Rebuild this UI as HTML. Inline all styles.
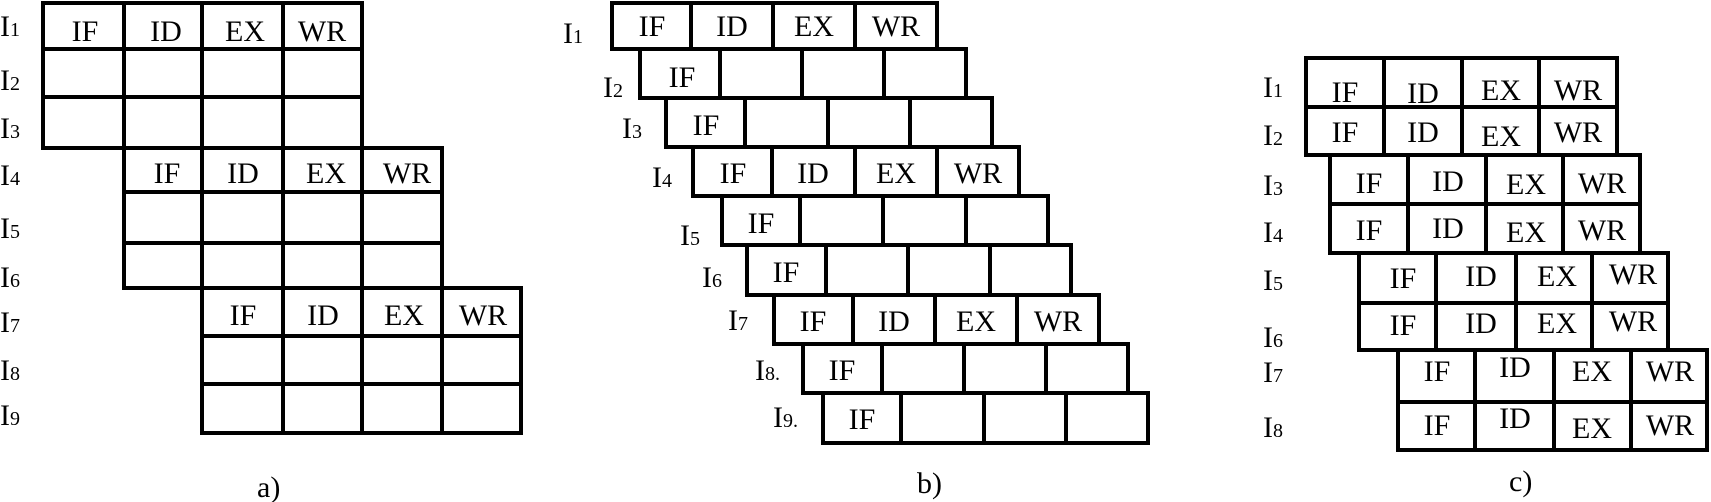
<!DOCTYPE html>
<html><head><meta charset="utf-8"><style>
html,body{margin:0;padding:0;background:#fff;}
svg{display:block;}
text{font-family:"Liberation Serif","DejaVu Serif",serif;fill:#000;}
.c{font-size:30px;text-anchor:middle;}
.l{font-size:30px;}
.s{font-size:20px;}
</style></head><body>
<svg width="1711" height="502" viewBox="0 0 1711 502" xmlns="http://www.w3.org/2000/svg">
<g fill="none" stroke="#000" stroke-width="4">
<!-- a -->
<rect x="43" y="3" width="319" height="145"/>
<path d="M43 49H362M43 97H362M124 3V148M202 3V148M283 3V148"/>
<rect x="124" y="148" width="318" height="140"/>
<path d="M124 192H442M124 243H442M202 148V288M283 148V288M362 148V288"/>
<rect x="202" y="288" width="319" height="145"/>
<path d="M202 336H521M202 384H521M283 288V433M362 288V433M442 288V433"/>
<!-- b -->
<rect x="612" y="3" width="325" height="46"/><path d="M691 3V49M773 3V49M855 3V49"/>
<rect x="640" y="49" width="326" height="49"/><path d="M720 49V98M802 49V98M884 49V98"/>
<rect x="666" y="98" width="326" height="49"/><path d="M745 98V147M828 98V147M910 98V147"/>
<rect x="693" y="147" width="326" height="49"/><path d="M772 147V196M855 147V196M937 147V196"/>
<rect x="722" y="196" width="326" height="49"/><path d="M800 196V245M883 196V245M966 196V245"/>
<rect x="747" y="245" width="324" height="50"/><path d="M826 245V295M908 245V295M990 245V295"/>
<rect x="774" y="295" width="325" height="49"/><path d="M853 295V344M935 295V344M1017 295V344"/>
<rect x="803" y="344" width="325" height="49"/><path d="M882 344V393M964 344V393M1046 344V393"/>
<rect x="823" y="393" width="325" height="50"/><path d="M901 393V443M984 393V443M1066 393V443"/>
<!-- c -->
<rect x="1306" y="58" width="311" height="97"/><path d="M1306 107H1617M1384 58V155M1462 58V155M1539 58V155"/>
<rect x="1330" y="155" width="310" height="98"/><path d="M1330 204H1640M1408 155V253M1486 155V253M1563 155V253"/>
<rect x="1359" y="253" width="309" height="97"/><path d="M1359 303H1668M1436 253V350M1516 253V350M1592 253V350"/>
<rect x="1398" y="350" width="309" height="100"/><path d="M1398 402H1707M1475 350V450M1554 350V450M1631 350V450"/>
</g>
<!-- a text -->
<g class="c">
<text x="85" y="41">IF</text><text x="166" y="41">ID</text><text x="245" y="41">EX</text><text x="322" y="41">WR</text>
<text x="167" y="183">IF</text><text x="243" y="183">ID</text><text x="326" y="183">EX</text><text x="407" y="183">WR</text>
<text x="243" y="325">IF</text><text x="323" y="325">ID</text><text x="404" y="325">EX</text><text x="483" y="325">WR</text>
</g>
<g class="l">
<text x="0" y="36">I<tspan class="s">1</tspan></text>
<text x="0" y="90">I<tspan class="s">2</tspan></text>
<text x="0" y="138">I<tspan class="s">3</tspan></text>
<text x="0" y="185">I<tspan class="s">4</tspan></text>
<text x="0" y="238">I<tspan class="s">5</tspan></text>
<text x="0" y="287">I<tspan class="s">6</tspan></text>
<text x="0" y="332">I<tspan class="s">7</tspan></text>
<text x="0" y="380">I<tspan class="s">8</tspan></text>
<text x="0" y="425">I<tspan class="s">9</tspan></text>
<text x="257" y="497">a)</text>
</g>
<!-- b text -->
<g class="c">
<text x="652" y="36">IF</text><text x="732" y="36">ID</text><text x="814" y="36">EX</text><text x="896" y="36">WR</text>
<text x="682" y="87">IF</text>
<text x="706" y="135">IF</text>
<text x="733" y="183">IF</text><text x="813" y="183">ID</text><text x="896" y="183">EX</text><text x="978" y="183">WR</text>
<text x="761" y="233">IF</text>
<text x="786" y="282">IF</text>
<text x="813" y="331">IF</text><text x="894" y="331">ID</text><text x="976" y="331">EX</text><text x="1058" y="331">WR</text>
<text x="842" y="380">IF</text>
<text x="862" y="429">IF</text>
</g>
<g class="l">
<text x="563" y="43">I<tspan class="s">1</tspan></text>
<text x="603" y="97">I<tspan class="s">2</tspan></text>
<text x="622" y="138">I<tspan class="s">3</tspan></text>
<text x="652" y="187">I<tspan class="s">4</tspan></text>
<text x="680" y="245">I<tspan class="s">5</tspan></text>
<text x="702" y="287">I<tspan class="s">6</tspan></text>
<text x="728" y="330">I<tspan class="s">7</tspan></text>
<text x="755" y="380">I<tspan class="s">8.</tspan></text>
<text x="773" y="427">I<tspan class="s">9.</tspan></text>
<text x="917" y="493">b)</text>
</g>
<!-- c text -->
<g class="c">
<text x="1345" y="102">IF</text><text x="1423" y="103">ID</text><text x="1501" y="100">EX</text><text x="1578" y="100">WR</text>
<text x="1345" y="142">IF</text><text x="1423" y="142">ID</text><text x="1501" y="146">EX</text><text x="1578" y="142">WR</text>
<text x="1369" y="193">IF</text><text x="1448" y="191">ID</text><text x="1526" y="194">EX</text><text x="1602" y="193">WR</text>
<text x="1369" y="240">IF</text><text x="1448" y="238">ID</text><text x="1526" y="242">EX</text><text x="1602" y="240">WR</text>
<text x="1403" y="288">IF</text><text x="1481" y="286">ID</text><text x="1557" y="286">EX</text><text x="1633" y="284">WR</text>
<text x="1403" y="335">IF</text><text x="1481" y="333">ID</text><text x="1557" y="333">EX</text><text x="1633" y="331">WR</text>
<text x="1437" y="381">IF</text><text x="1515" y="377">ID</text><text x="1592" y="381">EX</text><text x="1670" y="381">WR</text>
<text x="1437" y="435">IF</text><text x="1515" y="428">ID</text><text x="1592" y="438">EX</text><text x="1670" y="435">WR</text>
</g>
<g class="l">
<text x="1263" y="97">I<tspan class="s">1</tspan></text>
<text x="1263" y="145">I<tspan class="s">2</tspan></text>
<text x="1263" y="195">I<tspan class="s">3</tspan></text>
<text x="1263" y="242">I<tspan class="s">4</tspan></text>
<text x="1263" y="290">I<tspan class="s">5</tspan></text>
<text x="1263" y="347">I<tspan class="s">6</tspan></text>
<text x="1263" y="382">I<tspan class="s">7</tspan></text>
<text x="1263" y="437">I<tspan class="s">8</tspan></text>
<text x="1509" y="491">c)</text>
</g>
</svg>
</body></html>
